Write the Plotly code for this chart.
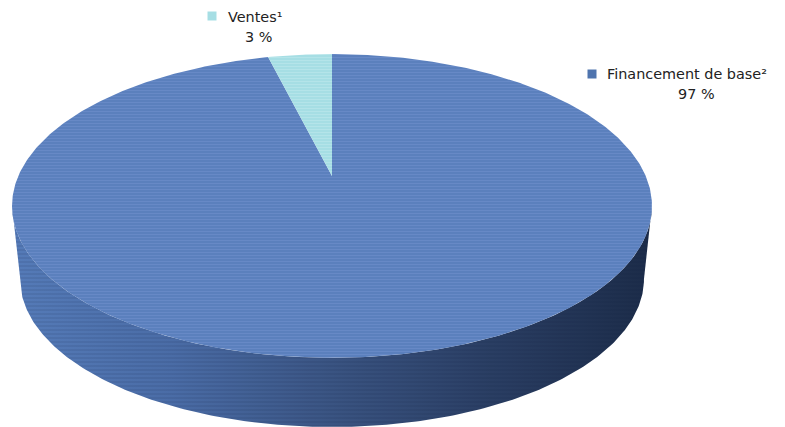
import numpy as np
import plotly.graph_objects as go

# Data
categories = ["Financement de base²", "Ventes¹"]
value_labels = ["97 %", "3 %"]
# Shares as the wedges are drawn in the picture
drawn_shares = [96.1, 3.9]
top_colors = ["#5b80bd", "#a6dee4"]
pattern_colors = ["rgba(140,170,225,0.45)", "rgba(225,250,250,0.45)"]
legend_colors = ["#4f74ae", "#a6dee4"]

# Pie geometry, in page pixels
W, H = 785, 427
PAGE_MARGIN = 8  # the browser's default body margin
CX, APEX_Y = 332, 176
A, B, K = 313.7, 146.0, 0.197
BOTTOM_SCALE, BOTTOM_SHIFT = 0.975, 73


def top_xy(theta):
    """Perspective view of the pie's top circle; theta clockwise from 12 o'clock."""
    u, v = np.sin(theta), np.cos(theta)
    d = 1 + K * v
    return CX + A * u / d, APEX_Y - B * v / d


def bottom_xy(theta):
    x, y = top_xy(theta)
    return CX + BOTTOM_SCALE * (x - CX), 206 + BOTTOM_SCALE * (y - 206) + BOTTOM_SHIFT


def silhouette_angles():
    # angles of the left/right extreme points of the projected ellipse
    t = np.arccos(-K)
    return t, 2 * np.pi - t


fig = go.Figure()

# Side wall
t0, t1 = silhouette_angles()
th = np.linspace(t0, t1, 240)
xt, yt = top_xy(th)
xb, yb = bottom_xy(th[::-1])
side_x = np.r_[xt, xb, xt[0]]
side_y = np.r_[yt, yb, yt[0]]
fig.add_trace(go.Scatter(
    x=side_x, y=side_y, mode="lines", line=dict(width=0), fill="toself",
    fillgradient=dict(type="horizontal", colorscale=[
        [0, "#557bb8"], [0.25, "#4a6ca6"], [0.5, "#3a5482"], [0.75, "#2a3e63"], [1, "#1c2c49"]]),
    hoverinfo="skip", showlegend=False))
fig.add_trace(go.Scatter(
    x=side_x, y=side_y, mode="lines", line=dict(width=0), fill="toself",
    fillcolor="rgba(0,0,0,0)",
    fillpattern=dict(shape="-", size=4, solidity=0.3, fgcolor="rgba(10,20,50,0.28)", bgcolor="rgba(0,0,0,0)"),
    hoverinfo="skip", showlegend=False))

# Top face wedges: the largest runs clockwise from 12 o'clock
total = sum(drawn_shares)
start = 0.0
for share, col, pat in zip(drawn_shares, top_colors, pattern_colors):
    end = start + 2 * np.pi * share / total
    ang = np.linspace(start, end, max(8, int(share * 6)))
    x, y = top_xy(ang)
    x = np.r_[CX, x, CX]
    y = np.r_[APEX_Y, y, APEX_Y]
    fig.add_trace(go.Scatter(
        x=x, y=y, mode="lines", line=dict(width=0), fill="toself", fillcolor=col,
        fillpattern=dict(shape="-", size=3, solidity=0.35, fgcolor=pat, bgcolor=col),
        hoverinfo="skip", showlegend=False))
    start = end

# Legend-style labels: marker x, y; name x, y; value x, y
positions = [(592, 74, 605, 74, 696, 94),
             (212, 16, 226, 17, 258, 37)]
for name, val, col, (mx, my, tx, ty, vx, vy) in zip(categories, value_labels, legend_colors, positions):
    fig.add_trace(go.Scatter(x=[mx], y=[my], mode="markers",
                             marker=dict(symbol="square", size=9, color=col),
                             hoverinfo="skip", showlegend=False))
    fig.add_annotation(x=tx, y=ty, text=name, xanchor="left", yanchor="middle", showarrow=False)
    fig.add_annotation(x=vx, y=vy, text=val, xanchor="center", yanchor="middle", showarrow=False)

fig.update_annotations(font=dict(family="DejaVu Sans, Verdana, sans-serif", size=14.4, color="#222222"))
fig.update_layout(
    width=W, height=H, margin=dict(l=0, r=0, t=0, b=0),
    paper_bgcolor="white", plot_bgcolor="white",
    xaxis=dict(range=[PAGE_MARGIN, W + PAGE_MARGIN], visible=False, fixedrange=True),
    yaxis=dict(range=[H + PAGE_MARGIN, PAGE_MARGIN], visible=False, fixedrange=True),
)
fig.write_html("out.html", config=dict(displayModeBar=False))
